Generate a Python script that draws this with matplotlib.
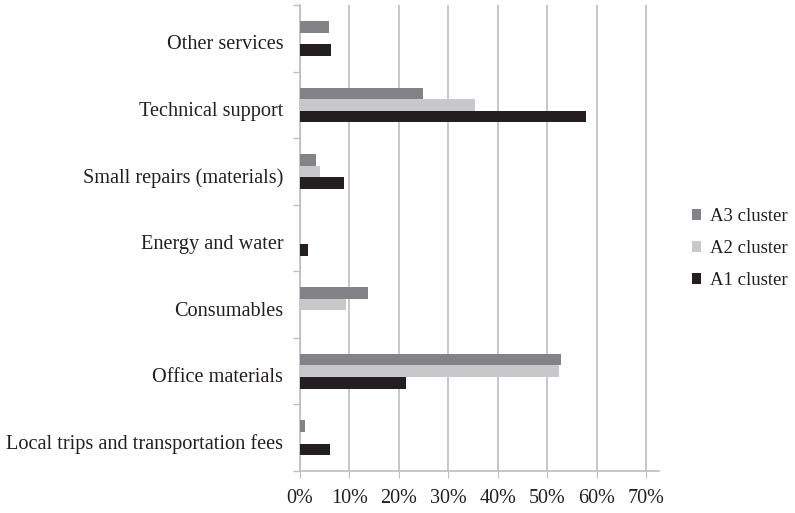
import matplotlib
matplotlib.use("Agg")
import matplotlib.pyplot as plt
import matplotlib.transforms as mtransforms
import numpy as np
from matplotlib.ticker import FuncFormatter

categories = ["Local trips and transportation fees", "Office materials", "Consumables",
              "Energy and water", "Small repairs (materials)", "Technical support", "Other services"]
a1 = [6.1, 21.4, 0.0, 1.6, 8.9, 57.8, 6.3]
a2 = [0.0, 52.3, 9.3, 0.0, 4.0, 35.4, 0.0]
a3 = [1.0, 52.7, 13.7, 0.0, 3.2, 24.8, 5.9]
series_names = ["A1 cluster", "A2 cluster", "A3 cluster"]
colors = ["#231F20", "#C8C8CA", "#838387"]
xticks = [0, 10, 20, 30, 40, 50, 60, 70]

plt.rcParams['font.family'] = ['Liberation Serif', 'DejaVu Serif']
fig = plt.figure(figsize=(7.95, 5.13), dpi=100)
ax = fig.add_axes([0.3774, 0.0819, 0.4516, 0.908])

y = np.arange(len(categories))
h = 0.175
handles = []
for i, (vals, name, c) in enumerate(zip([a1, a2, a3], series_names, colors)):
    b = ax.barh(y + (i - 1) * h, vals, height=h, color=c, label=name, zorder=3)
    handles.append(b)

ax.set_ylim(-0.5, len(categories) - 0.5)
ax.set_xlim(0, 72.6)
ax.set_xticks(xticks)
ax.xaxis.set_major_formatter(FuncFormatter(lambda v, p: f"{int(v)}%"))
ax.set_yticks(y)
ax.set_yticklabels(categories)
ax.set_yticks(np.arange(-0.5, len(categories)), minor=True)
ax.tick_params(axis='y', which='major', length=0, labelsize=14.6, pad=12, labelcolor='#231F20')
ax.tick_params(axis='y', which='minor', length=5, color='#BEBEBE', width=1)
ax.tick_params(axis='x', length=5, color='#BEBEBE', labelsize=14.5, labelcolor='#231F20', pad=8)

offset = mtransforms.ScaledTranslation(0, -4 / 100, fig.dpi_scale_trans)
for lbl in ax.get_yticklabels():
    lbl.set_transform(lbl.get_transform() + offset)

ax.grid(axis='x', color='#BEBEBE', linewidth=1.2, zorder=0)
for s in ['top', 'right']:
    ax.spines[s].set_visible(False)
ax.spines['left'].set_color('#BEBEBE')
ax.spines['bottom'].set_color('#BEBEBE')
ax.spines['left'].set_linewidth(1.2)
ax.spines['bottom'].set_linewidth(1.2)

leg = fig.legend(handles[::-1], series_names[::-1], loc='center left',
                 bbox_to_anchor=(0.849, 0.515), frameon=False, fontsize=13.5,
                 handlelength=0.5, handleheight=0.5, handletextpad=0.45,
                 labelspacing=0.8, labelcolor='#231F20')

fig.savefig("out.png", dpi=100)
